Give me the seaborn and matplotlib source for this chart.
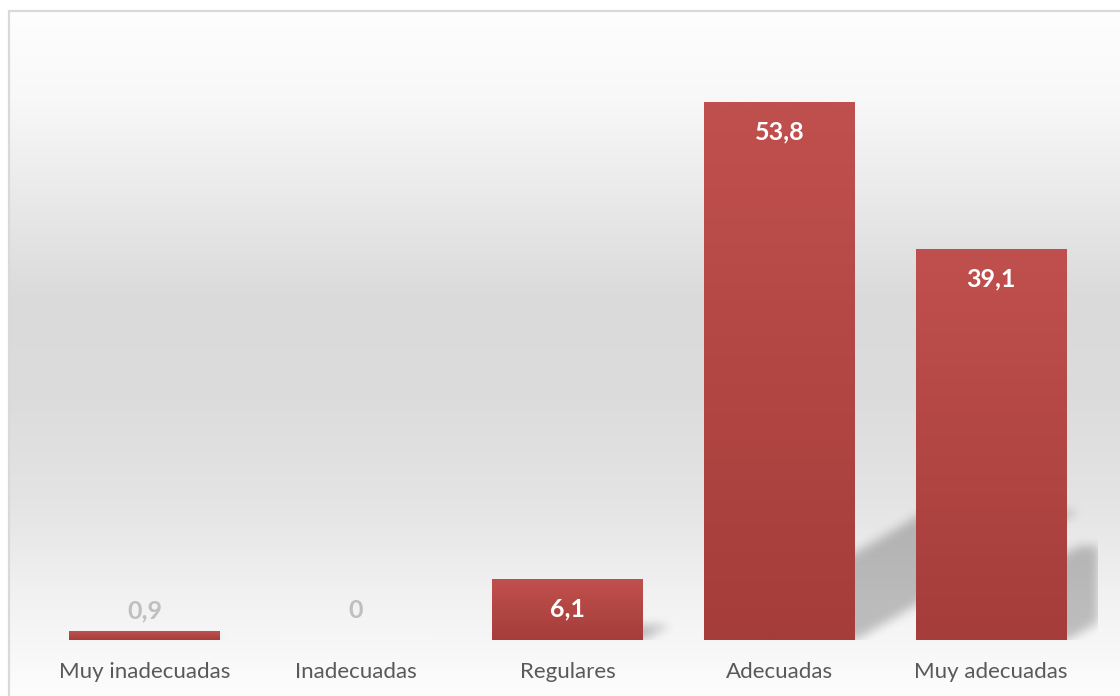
import numpy as np
import pandas as pd
import matplotlib
matplotlib.use("Agg")
import matplotlib.pyplot as plt
from matplotlib.patches import Rectangle
import seaborn as sns

# Survey results (%)
categories = ["Muy inadecuadas", "Inadecuadas", "Regulares", "Adecuadas", "Muy adecuadas"]
percentages = [0.9, 0.0, 6.1, 53.8, 39.1]

sns.set_style("white")
plt.rcParams["font.family"] = ["Lato", "DejaVu Sans"]

W, H, DPI = 1120, 696, 100
fig = plt.figure(figsize=(W / DPI, H / DPI), dpi=DPI)
fig.patch.set_facecolor("white")

# ---- chart-area background: white -> grey -> white vertical gradient ----
bg = fig.add_axes([0, 0, 1, 1], zorder=-2)
bg.set_xlim(0, W)
bg.set_ylim(0, H)
bg.axis("off")
rows = np.arange(11, H)
stops_y = [11, 100, 200, 300, 400, 500, 600, 696]
stops_v = [254, 248, 233, 218, 220, 228, 242, 253]
shade = np.interp(rows, stops_y, stops_v) / 255.0
grad_img = np.repeat(np.repeat(shade[:, None, None], 16, axis=1), 3, axis=2)
bg.imshow(grad_img, origin="upper", extent=(9, W + 2, 0, H - 11),
          aspect="auto", interpolation="nearest")
bg.add_patch(Rectangle((9, -5), W, H - 11 + 5, facecolor="none",
                       edgecolor="#d9d9d9", lw=1.6))

# ---- main axes ----
left_px, right_px, base_px, top_px = 38.6, 1097.0, 640.0, 40.0
ax = fig.add_axes([left_px / W, (H - base_px) / H,
                   (right_px - left_px) / W, (base_px - top_px) / H])
ax.set_facecolor("none")

df = pd.DataFrame({"categoria": categories, "porcentaje": percentages})
bar_width = 0.713
sns.barplot(data=df, x="categoria", y="porcentaje", color="#c0504d",
            saturation=1, width=bar_width, ax=ax, zorder=3)

ax.set_xlim(-0.5, len(categories) - 0.5)
ax.set_ylim(0, 60)
for s in ax.spines.values():
    s.set_visible(False)
ax.set_yticks([])
ax.set_xlabel("")
ax.set_ylabel("")
ax.tick_params(axis="x", length=0, pad=16, labelsize=16, labelcolor="#595959")

# ---- soft perspective shadows cast to the right of each bar ----
aw, ah = int(right_px - left_px), int(base_px - top_px)
xs = -0.5 + (np.arange(aw) + 0.5) / aw * len(categories)
ys = (np.arange(ah) + 0.5) / ah * 60
X, Y = np.meshgrid(xs, ys)
px_per_cat = (right_px - left_px) / len(categories)
px_per_unit = (base_px - top_px) / 60
mask = np.zeros_like(X)
for i, v in enumerate(percentages):
    if v <= 0:
        continue
    sh = 0.24 * v
    shift = Y * px_per_unit * 1.72 / px_per_cat
    inside = (Y <= sh) & (X >= i - bar_width / 2 + shift) & (X <= i + bar_width / 2 + shift)
    mask = np.maximum(mask, inside.astype(float))

sigma = 5.0
k = np.arange(-15, 16)
kern = np.exp(-k ** 2 / (2 * sigma ** 2))
kern /= kern.sum()
mask = np.apply_along_axis(lambda r: np.convolve(r, kern, mode="same"), 1, mask)
mask = np.apply_along_axis(lambda c: np.convolve(c, kern, mode="same"), 0, mask)
shadow = np.zeros((ah, aw, 4))
shadow[..., 3] = 0.23 * mask
ax.imshow(shadow, origin="lower", extent=(-0.5, len(categories) - 0.5, 0, 60),
          aspect="auto", zorder=2, interpolation="bilinear")

# ---- gradient fill for the bars ----
top_col = np.array([192, 80, 77]) / 255
bot_col = np.array([165, 61, 58]) / 255
t = np.linspace(0, 1, 64)[:, None]
bar_grad = (top_col * (1 - t) + bot_col * t)[:, None, :]
for p in ax.patches:
    x0, w, h = p.get_x(), p.get_width(), p.get_height()
    if h <= 0:
        continue
    im = ax.imshow(bar_grad, origin="upper", extent=(x0, x0 + w, 0, h),
                   aspect="auto", zorder=3, interpolation="bilinear")
    im.set_clip_path(p)
    p.set_facecolor("none")
    p.set_edgecolor("none")

ax.set_xlim(-0.5, len(categories) - 0.5)
ax.set_ylim(0, 60)

# ---- value labels ----
for i, v in enumerate(percentages):
    txt = f"{v:g}".replace(".", ",")
    if v >= 5:
        ax.text(i, v - 3.0, txt, ha="center", va="center", fontsize=18,
                fontweight="bold", color="white", zorder=5)
    else:
        ax.text(i, 2.9, txt, ha="center", va="center", fontsize=18,
                fontweight="bold", color="#bfbfbf", zorder=5)

fig.savefig("out.png", dpi=DPI)
